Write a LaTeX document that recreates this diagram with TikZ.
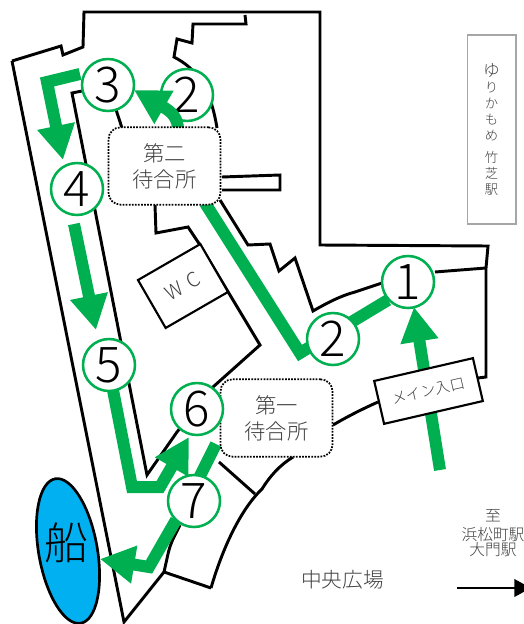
\documentclass[tikz,border=0pt]{standalone}
\usepackage{fontspec}
\setmainfont{Noto Sans CJK JP}[UprightFont=* Light,BoldFont=*]
\usetikzlibrary{arrows.meta,shapes.geometric}
\definecolor{grn}{HTML}{00B050}
\definecolor{ship}{HTML}{00B0F0}
\definecolor{txt}{HTML}{404040}
\definecolor{frameg}{HTML}{A6A6A6}
\newcommand{\fsz}[1]{\fontsize{#1}{#1}\selectfont}
\tikzset{
  x=0.75pt,y=0.75pt,
  wall/.style={draw=black,line width=2.2pt,line join=miter},
  thinbox/.style={draw=black,line width=1.6pt,fill=white,anchor=center,inner sep=0pt},
  route/.style={draw=grn,line width=9pt,line join=miter,line cap=butt},
  routearrow/.style={route,-{Triangle[length=26pt,width=27pt]}},
  num/.style={circle,draw=grn,line width=1.9pt,fill=white,minimum size=39pt,inner sep=0pt,text=black,font=\fsz{37}},
  waiting/.style={draw=black,densely dotted,line width=1.3pt,fill=white,rounded corners=9pt,minimum width=84pt,minimum height=58pt,align=center,text=txt,font=\fontsize{16}{19.5}\selectfont,inner sep=0pt},
  label/.style={text=txt,align=center,inner sep=0pt}
}
\begin{document}
\begin{tikzpicture}
\useasboundingbox (0,-624) rectangle (524,0);
% walls
\draw[wall] (12,-61)--(61,-46)--(63,-55)--(83,-47)--(84,-12)--(320,-12)--(320,-245)--(488,-246)--(486,-268)--(486,-377)--(478,-378);
\draw[wall] (12,-61)--(124,-622)--(164,-572);
\draw[wall,rounded corners=6pt] (164,-572)--(170,-545)--(180,-525);
\draw[wall] (164,-572)--(211,-588);
\draw[wall] (211,-588) .. controls (222,-550) and (240,-510) .. (262,-489) .. controls (270,-476) and (280,-465) .. (293,-457);
\draw[wall] (333,-425) .. controls (345,-418) and (360,-410) .. (378,-402);
\draw[wall] (219,-462)--(255,-494);
\draw[wall] (82,-91)--(72,-93)--(147,-475)--(177,-432)--(213,-387)--(260,-345)--(200,-245)--(188,-227)--(156,-233)--(155,-205);
\draw[wall] (108,-85)--(122,-128);
\draw[wall] (245,-15)--(246,-24)--(193,-24)--(192,-43)--(177,-39)--(174,-57) .. controls (195,-68) and (210,-85) .. (217,-128);
\draw[wall] (222,-177)--(280,-175)--(280,-190)--(222,-190);
\draw[wall] (220,-200)--(248,-245)--(270,-244)--(279,-271)--(295,-258)--(313,-311) .. controls (327,-303) and (340,-296) .. (355,-292)--(382,-283);
\draw[wall] (435,-272)--(486,-268);
% upper 2 lies below its arrow
\node[num] (two) at (187,-95) {2};
% coordinates of the route
\coordinate (startmain) at (440,-470);
\coordinate (tipone) at (414,-307);
\coordinate (bendtwo) at (300,-353);
\coordinate (fromsecond) at (205,-203);
\coordinate (tailup) at (178,-130);
\coordinate (tipthree) at (134,-90);
\coordinate (threeout) at (80,-74);
\coordinate (bendthree) at (47,-82);
\coordinate (tipfour) at (63,-160);
\coordinate (fourout) at (74,-224);
\coordinate (tipfive) at (96,-330);
\coordinate (fiveout) at (112,-385);
\coordinate (bendfive) at (132,-487);
\coordinate (bendfiveb) at (160,-487);
\coordinate (tipsix) at (189,-437);
\coordinate (firstout) at (216,-444);
\coordinate (bendseven) at (149,-567);
\coordinate (tipseven) at (100,-559);
\draw[routearrow] (startmain)--(tipone);
\draw[route] (fromsecond)--(bendtwo)--(388,-300);
\draw[routearrow] (tailup) .. controls (178,-118) and (172,-112) .. (tipthree);
\draw[routearrow] (threeout)--(bendthree)--(tipfour);
\draw[routearrow] (fourout)--(tipfive);
\draw[routearrow] (fiveout)--(bendfive)--(bendfiveb)--(tipsix);
\draw[route] (firstout)--(198,-480);
\draw[routearrow] (176,-520)--(bendseven)--(tipseven);
% boxes
\node[waiting] (second) at (164.5,-166) {第二\\待合所};
\node[waiting] (first) at (276.5,-418) {第一\\待合所};
\node[thinbox,minimum width=54pt,minimum height=41.5pt,rotate=30] (wc) at (183,-286) {\fsz{15}\color{txt}W\,\,C};
\node[thinbox,minimum width=76pt,minimum height=33pt,rotate=13] (entry) at (428.5,-391) {\fsz{11.2}\color{txt}メイン入口};
\node[draw=frameg,line width=1pt,minimum width=36.5pt,minimum height=141.5pt,inner sep=0pt,label] (station) at (491.5,-129.5) {\fsz{12.5}\baselineskip=12pt ゆ\\り\\か\\も\\め\\[4pt]竹\\芝\\駅};
% circles
\node[num] (one) at (408,-282) {1};
\node[num] (twob) at (333,-339) {2};
\node[num] (three) at (108,-85) {3};
\node[num] (four) at (77,-189) {4};
\node[num] (five) at (109,-365) {5};
\node[num] (six) at (197,-409) {6};
\node[num] (seven) at (194,-501) {7};
% ship
\node[ellipse,draw=black,line width=2pt,fill=ship,minimum width=110pt,minimum height=44pt,inner sep=0pt,rotate=-80] (boat) at (68,-551) {};
\node[text=black,inner sep=0pt] (boattext) at (66,-543) {\fsz{33}船};
% free labels
\node[label,font=\fsz{15.5}] (plaza) at (342.5,-580) {中央広場};
\node[label,font=\fsz{11.8},text width=80pt] (dest) at (493,-533) {\baselineskip=14.2pt 至\\浜松町駅\\大門駅};
\coordinate (destfrom) at (457,-588);
\coordinate (destto) at (531,-588);
\draw[line width=2pt,-{Triangle[length=12.5pt,width=13pt]}] (destfrom)--(destto);
\end{tikzpicture}
\end{document}
